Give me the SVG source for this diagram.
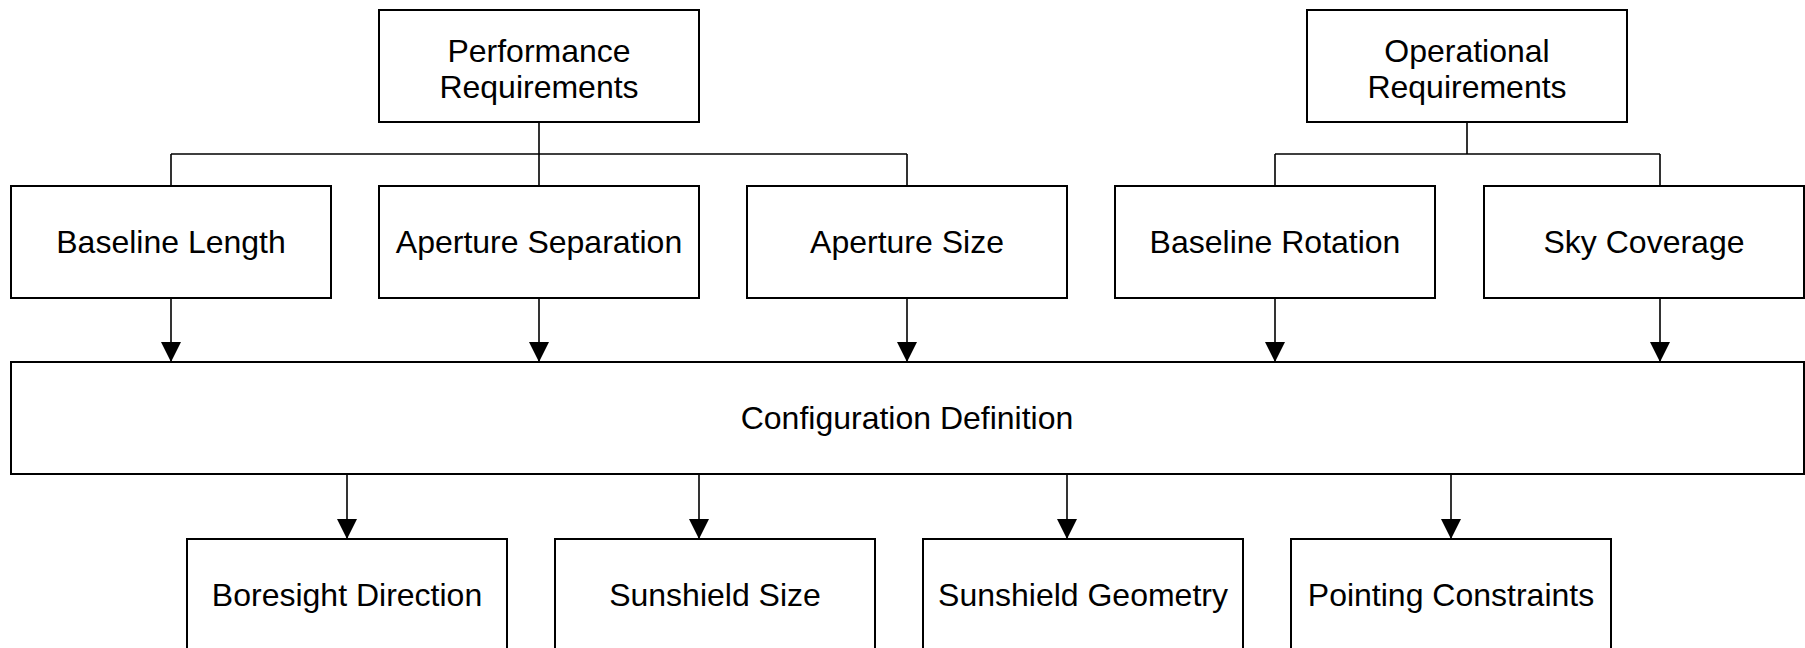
<svg xmlns="http://www.w3.org/2000/svg" width="1805" height="648" viewBox="0 0 1805 648">
<style>
.box{fill:#fff;stroke:#000;stroke-width:2}
.t{font-family:"Liberation Sans",Arial,sans-serif;font-size:32px;fill:#000;text-anchor:middle}
.c{fill:none;stroke:#000;stroke-width:1.6}
</style>
<defs>
<marker id="ah" markerUnits="userSpaceOnUse" markerWidth="20" markerHeight="20" refX="20" refY="10" orient="auto" viewBox="0 0 20 20">
<path d="M0,0 L20,10 L0,20 Z" fill="#000"/>
</marker>
</defs>
<rect width="1805" height="648" fill="#fff"/>
<g id="connectors">
<path class="c" d="M539,122 V154 M171,154 H907 M171,154 V186 M539,154 V186 M907,154 V186"/>
<path class="c" d="M1467,122 V154 M1275,154 H1660 M1275,154 V186 M1660,154 V186"/>
<path class="c" d="M171,298 V362" marker-end="url(#ah)"/>
<path class="c" d="M539,298 V362" marker-end="url(#ah)"/>
<path class="c" d="M907,298 V362" marker-end="url(#ah)"/>
<path class="c" d="M1275,298 V362" marker-end="url(#ah)"/>
<path class="c" d="M1660,298 V362" marker-end="url(#ah)"/>
<path class="c" d="M347,474 V539" marker-end="url(#ah)"/>
<path class="c" d="M699,474 V539" marker-end="url(#ah)"/>
<path class="c" d="M1067,474 V539" marker-end="url(#ah)"/>
<path class="c" d="M1451,474 V539" marker-end="url(#ah)"/>
</g>
<g id="performance-requirements"><rect class="box" x="379" y="10" width="320" height="112"/><text class="t" x="539" y="62">Performance</text><text class="t" x="539" y="98">Requirements</text></g>
<g id="operational-requirements"><rect class="box" x="1307" y="10" width="320" height="112"/><text class="t" x="1467" y="62">Operational</text><text class="t" x="1467" y="98">Requirements</text></g>
<g id="baseline-length"><rect class="box" x="11" y="186" width="320" height="112"/><text class="t" x="171" y="253">Baseline Length</text></g>
<g id="aperture-separation"><rect class="box" x="379" y="186" width="320" height="112"/><text class="t" x="539" y="253">Aperture Separation</text></g>
<g id="aperture-size"><rect class="box" x="747" y="186" width="320" height="112"/><text class="t" x="907" y="253">Aperture Size</text></g>
<g id="baseline-rotation"><rect class="box" x="1115" y="186" width="320" height="112"/><text class="t" x="1275" y="253">Baseline Rotation</text></g>
<g id="sky-coverage"><rect class="box" x="1484" y="186" width="320" height="112"/><text class="t" x="1644" y="253">Sky Coverage</text></g>
<g id="configuration-definition"><rect class="box" x="11" y="362" width="1793" height="112"/><text class="t" x="907" y="429">Configuration Definition</text></g>
<g id="boresight-direction"><rect class="box" x="187" y="539" width="320" height="112"/><text class="t" x="347" y="606">Boresight Direction</text></g>
<g id="sunshield-size"><rect class="box" x="555" y="539" width="320" height="112"/><text class="t" x="715" y="606">Sunshield Size</text></g>
<g id="sunshield-geometry"><rect class="box" x="923" y="539" width="320" height="112"/><text class="t" x="1083" y="606">Sunshield Geometry</text></g>
<g id="pointing-constraints"><rect class="box" x="1291" y="539" width="320" height="112"/><text class="t" x="1451" y="606">Pointing Constraints</text></g>
</svg>
